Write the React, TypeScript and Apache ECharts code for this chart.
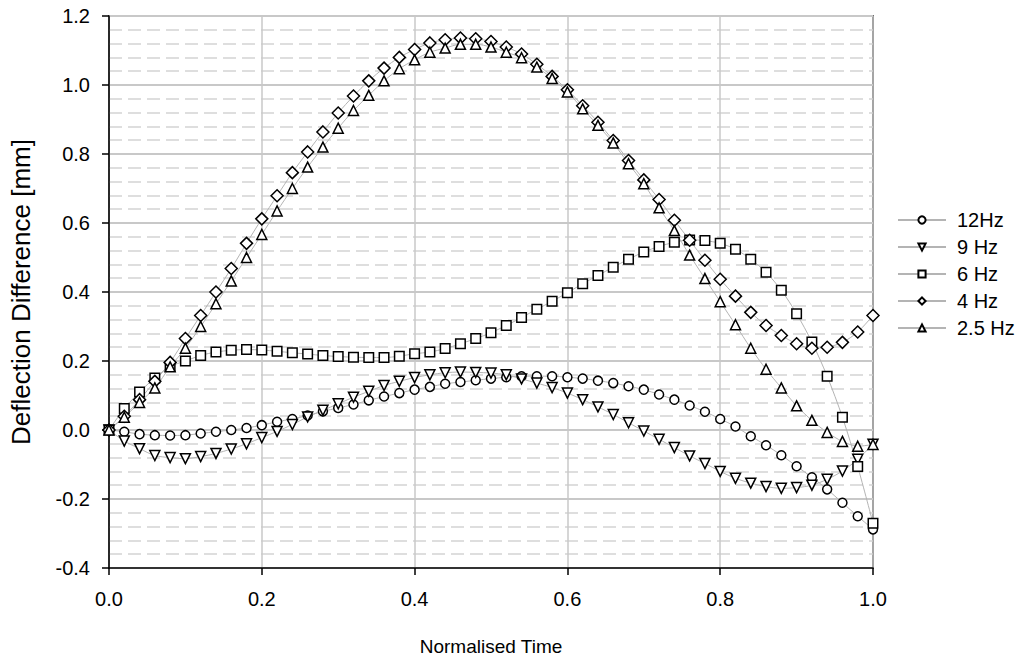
import React, { useEffect, useRef } from "react";
import * as echarts from "echarts";

const xValues = [
  0, 0.02, 0.04, 0.06, 0.08, 0.1, 0.12, 0.14, 0.16, 0.18, 0.2, 0.22, 0.24, 0.26, 0.28, 0.3, 0.32, 0.34,
  0.36, 0.38, 0.4, 0.42, 0.44, 0.46, 0.48, 0.5, 0.52, 0.54, 0.56, 0.58, 0.6, 0.62, 0.64, 0.66, 0.68,
  0.7, 0.72, 0.74, 0.76, 0.78, 0.8, 0.82, 0.84, 0.86, 0.88, 0.9, 0.92, 0.94, 0.96, 0.98, 1.0,
];

const hz12 = [
  0, -0.005, -0.012, -0.015, -0.016, -0.015, -0.01, -0.005, 0.0, 0.006, 0.014, 0.024, 0.032, 0.042,
  0.054, 0.064, 0.074, 0.086, 0.097, 0.107, 0.117, 0.125, 0.134, 0.139, 0.144, 0.149, 0.153, 0.156,
  0.156, 0.156, 0.153, 0.149, 0.143, 0.136, 0.127, 0.117, 0.103, 0.088, 0.071, 0.053, 0.032, 0.01,
  -0.018, -0.044, -0.073, -0.105, -0.137, -0.172, -0.211, -0.25, -0.288,
];

const hz9 = [
  0, -0.032, -0.054, -0.074, -0.08, -0.083, -0.077, -0.068, -0.055, -0.04, -0.022, -0.004, 0.016,
  0.038, 0.057, 0.076, 0.095, 0.112, 0.129, 0.141, 0.152, 0.16, 0.166, 0.168, 0.167, 0.165, 0.16,
  0.148, 0.136, 0.123, 0.107, 0.088, 0.067, 0.045, 0.021, -0.003, -0.027, -0.051, -0.075, -0.097,
  -0.12, -0.14, -0.154, -0.164, -0.169, -0.167, -0.16, -0.143, -0.119, -0.085, -0.041,
];

const hz6 = [
  0, 0.062, 0.11, 0.151, 0.184, 0.2, 0.216, 0.226, 0.231, 0.233, 0.232, 0.228, 0.224, 0.22, 0.216,
  0.213, 0.211, 0.21, 0.21, 0.214, 0.221, 0.226, 0.236, 0.25, 0.265, 0.282, 0.303, 0.326, 0.35, 0.373,
  0.398, 0.424, 0.448, 0.472, 0.495, 0.516, 0.532, 0.544, 0.551, 0.549, 0.541, 0.524, 0.495, 0.457,
  0.405, 0.337, 0.255, 0.156, 0.037, -0.106, -0.27,
];

const hz4 = [
  0, 0.04, 0.088, 0.141, 0.196, 0.265, 0.332, 0.4, 0.468, 0.541, 0.612, 0.679, 0.746, 0.806, 0.864,
  0.919, 0.968, 1.012, 1.049, 1.08, 1.103, 1.122, 1.131, 1.136, 1.134, 1.126, 1.11, 1.09, 1.06, 1.025,
  0.986, 0.94, 0.892, 0.839, 0.781, 0.725, 0.668, 0.608, 0.55, 0.492, 0.437, 0.388, 0.341, 0.303,
  0.274, 0.25, 0.237, 0.24, 0.254, 0.284, 0.332,
];

const hz25 = [
  0, 0.037, 0.08, 0.122, 0.183, 0.237, 0.3, 0.366, 0.432, 0.5, 0.567, 0.635, 0.7, 0.762, 0.82, 0.875,
  0.926, 0.97, 1.012, 1.047, 1.073, 1.095, 1.107, 1.118, 1.118, 1.11, 1.095, 1.079, 1.052, 1.019,
  0.98, 0.931, 0.883, 0.832, 0.772, 0.714, 0.644, 0.578, 0.507, 0.439, 0.372, 0.305, 0.237, 0.176,
  0.122, 0.07, 0.028, -0.007, -0.033, -0.047, -0.042,
];

const seriesNames = ["12Hz", "9 Hz", "6 Hz", "4 Hz", "2.5 Hz"];
const seriesValues = [hz12, hz9, hz6, hz4, hz25];
const seriesSymbols = ["circle", "triangle", "rect", "diamond", "triangle"];
const seriesRotate = [0, 180, 0, 0, 0];
const seriesSizes = [9, 10, 9.5, 12, 10];

const FONT = "'Liberation Sans', Arial, sans-serif";

export default function App() {
  const ref = useRef<HTMLDivElement>(null);

  useEffect(() => {
    if (!ref.current) return;
    const chart = echarts.init(ref.current, undefined, { renderer: "svg" });
    const series = seriesNames.map((name, i) => ({
      name,
      type: "line",
      data: xValues.map((x, j) => [x, seriesValues[i][j]]),
      symbol: seriesSymbols[i],
      symbolRotate: seriesRotate[i],
      symbolSize: seriesSizes[i],
      showSymbol: true,
      smooth: 0.3,
      lineStyle: { color: "#b4b4b4", width: 1 },
      itemStyle: { color: "#ffffff", borderColor: "#000000", borderWidth: 1.5 },
      emphasis: { disabled: true },
      z: 3,
    }));

    chart.setOption({
      animation: false,
      textStyle: { fontFamily: FONT },
      grid: {
        left: 109,
        right: 156,
        top: 16,
        bottom: 92,
        show: true,
        borderColor: "#000",
        borderWidth: 1.5,
        backgroundColor: "transparent",
      },
      legend: {
        orient: "vertical",
        left: 897,
        top: 210,
        padding: 0,
        itemWidth: 48,
        itemHeight: 9,
        itemGap: 7,
        data: seriesNames,
        textStyle: {
          fontFamily: FONT,
          fontSize: 20,
          lineHeight: 18,
          color: "#000",
          padding: [0, 0, 0, 6],
        },
        selectedMode: false,
      },
      xAxis: {
        type: "value",
        min: 0,
        max: 1,
        interval: 0.2,
        name: "Normalised Time",
        nameLocation: "middle",
        nameGap: 69,
        nameTextStyle: { fontFamily: FONT, fontSize: 19, color: "#000" },
        axisLine: { show: true, onZero: false, lineStyle: { color: "#000", width: 1.5 } },
        axisTick: { show: true, inside: false, length: 7, lineStyle: { color: "#000", width: 1.5 } },
        axisLabel: {
          fontFamily: FONT,
          fontSize: 20,
          color: "#000",
          margin: 21,
          formatter: (v: number) => v.toFixed(1),
        },
        splitLine: { show: true, lineStyle: { color: "#c8c8c8", width: 1.5 } },
      },
      yAxis: {
        type: "value",
        min: -0.4,
        max: 1.2,
        interval: 0.2,
        name: "Deflection Difference [mm]",
        nameLocation: "middle",
        nameGap: 75,
        nameTextStyle: { fontFamily: FONT, fontSize: 26, color: "#000" },
        axisLine: { show: true, onZero: false, lineStyle: { color: "#000", width: 1.5 } },
        axisTick: { show: true, inside: false, length: 7, lineStyle: { color: "#000", width: 1.5 } },
        axisLabel: {
          fontFamily: FONT,
          fontSize: 20,
          color: "#000",
          margin: 19,
          formatter: (v: number) => v.toFixed(1),
        },
        splitLine: { show: true, lineStyle: { color: "#c8c8c8", width: 2 } },
        minorTick: { show: false, splitNumber: 5 },
        minorSplitLine: { show: true, lineStyle: { color: "#d4d4d4", width: 1.5, type: [13, 6] } },
      },
      series,
    });

    return () => chart.dispose();
  }, []);

  return (
    <div
      ref={ref}
      style={{ position: "fixed", left: 0, top: 0, width: 1029, height: 661, background: "#fff" }}
    />
  );
}
